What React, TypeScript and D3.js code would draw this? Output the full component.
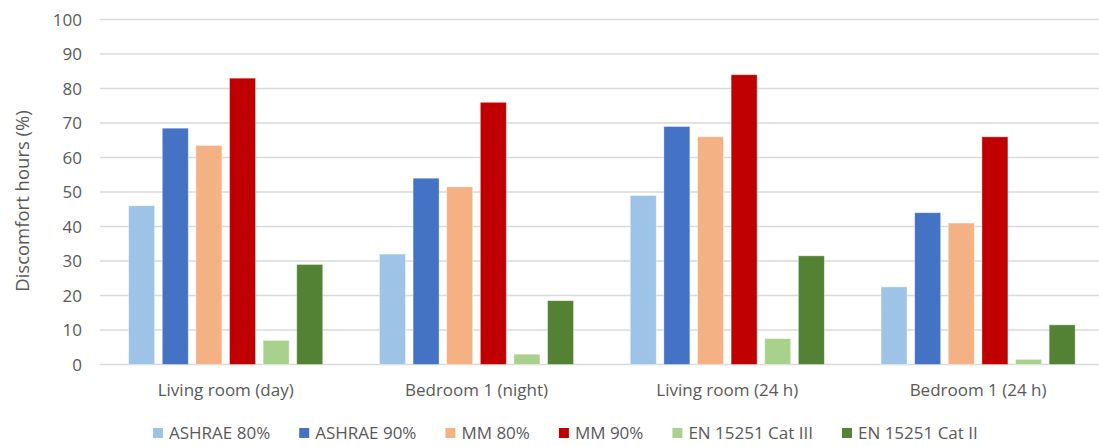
import React, { useEffect, useRef } from "react";
import * as d3 from "d3";

const categories = ["Living room (day)", "Bedroom 1 (night)", "Living room (24 h)", "Bedroom 1 (24 h)"];
const seriesNames = ["ASHRAE 80%", "ASHRAE 90%", "MM 80%", "MM 90%", "EN 15251 Cat III", "EN 15251 Cat II"];
const seriesColors = ["#9DC3E6", "#4472C4", "#F4B183", "#C00000", "#A9D18E", "#548235"];
const ashrae80 = [46, 32, 49, 22.5];
const ashrae90 = [68.5, 54, 69, 44];
const mm80 = [63.5, 51.5, 66, 41];
const mm90 = [83, 76, 84, 66];
const enCat3 = [7, 3, 7.5, 1.5];
const enCat2 = [29, 18.5, 31.5, 11.5];
const yTicks = [0, 10, 20, 30, 40, 50, 60, 70, 80, 90, 100];
const yTitle = "Discomfort hours (%)";

const W = 1099;
const H = 446;
const FONT = "'Open Sans', Lato, sans-serif";
const TEXT = "#595959";
const FS = 17;

export default function App() {
  const ref = useRef<SVGSVGElement>(null);
  useEffect(() => {
    const svg = d3.select(ref.current);
    svg.selectAll("*").remove();
    const series = [ashrae80, ashrae90, mm80, mm90, enCat3, enCat2];

    const y = d3.scaleLinear().domain([0, 100]).range([364.5, 19.5]);
    const x0 = d3.scaleBand<string>().domain(categories).range([100.3, 1103.5]).paddingInner(0.226).paddingOuter(0.113);
    const x1 = d3.scaleBand<number>().domain(d3.range(series.length)).range([0, x0.bandwidth()]).paddingInner(0.226).paddingOuter(0);

    // gridlines
    svg.append("g").selectAll("line").data(yTicks).join("line")
      .attr("x1", 100).attr("x2", W)
      .attr("y1", (d) => y(d)).attr("y2", (d) => y(d))
      .attr("stroke", "#D9D9D9").attr("stroke-width", 1.3);

    // y labels
    svg.append("g").selectAll("text").data(yTicks).join("text")
      .attr("x", 82).attr("y", (d) => y(d)).attr("dy", "0.36em")
      .attr("text-anchor", "end").attr("font-family", FONT).attr("font-size", FS)
      .attr("fill", TEXT).text((d) => String(d));

    // y title
    svg.append("text")
      .attr("transform", `translate(29,${201}) rotate(-90)`)
      .attr("text-anchor", "middle").attr("font-family", FONT).attr("font-size", 18.5)
      .attr("fill", TEXT).text(yTitle);

    // bars
    const groups = svg.append("g").selectAll("g").data(categories).join("g")
      .attr("transform", (c) => `translate(${x0(c)},0)`);
    groups.selectAll("rect").data((c, ci) => series.map((s, si) => ({ si, v: s[ci] }))).join("rect")
      .attr("x", (d) => x1(d.si)!)
      .attr("width", x1.bandwidth())
      .attr("y", (d) => y(d.v))
      .attr("height", (d) => y(0) - y(d.v))
      .attr("fill", (d) => seriesColors[d.si])
      .attr("stroke", "#ffffff").attr("stroke-opacity", 0.5).attr("stroke-width", 0.8);

    // category labels
    svg.append("g").selectAll("text").data(categories).join("text")
      .attr("x", (c) => x0(c)! + x0.bandwidth() / 2).attr("y", 396)
      .attr("text-anchor", "middle").attr("font-family", FONT).attr("font-size", FS)
      .attr("fill", TEXT).text((c) => c);

    // legend
    const lg = svg.append("g");
    let cx = 153;
    seriesNames.forEach((name, i) => {
      lg.append("rect").attr("x", cx).attr("y", 428).attr("width", 10).attr("height", 10).attr("fill", seriesColors[i]);
      const t = lg.append("text").attr("x", cx + 16).attr("y", 433).attr("dy", "0.36em")
        .attr("font-family", FONT).attr("font-size", FS).attr("fill", TEXT).text(name);
      const w = (t.node() as SVGTextElement).getComputedTextLength();
      cx += 16 + w + 29;
    });
  }, []);
  return <svg ref={ref} width={W} height={H} style={{ display: "block", position: "absolute", left: 0, top: 0 }} />;
}
